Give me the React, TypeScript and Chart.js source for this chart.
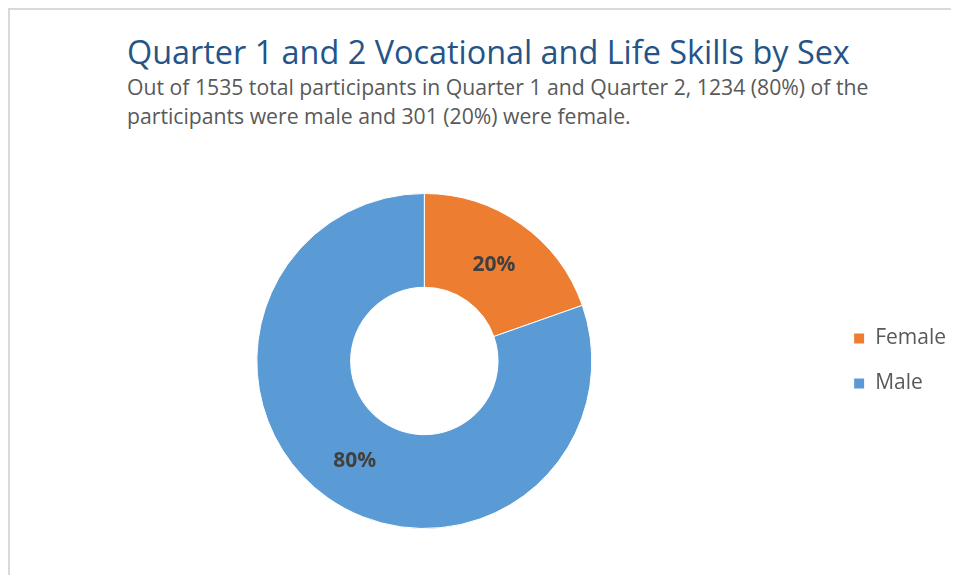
import React, { useEffect, useRef } from "react";
import { Chart, registerables } from "chart.js";

Chart.register(...registerables);

const TITLE = "Quarter 1 and 2 Vocational and Life Skills by Sex";
const SUBTITLE_LINES = [
  "Out of 1535 total participants in Quarter 1 and Quarter 2, 1234 (80%) of the",
  "participants were male and 301 (20%) were female.",
];
const CATEGORIES = ["Female", "Male"];
const VALUES = [301, 1234];
const COLORS = ["#ED7D31", "#5B9BD5"];

const FONT = "'Open Sans', 'Noto Sans', sans-serif";

const sliceLabels = {
  id: "sliceLabels",
  afterDatasetsDraw(chart: any) {
    const ctx = chart.ctx;
    const meta = chart.getDatasetMeta(0);
    const data = chart.data.datasets[0].data as number[];
    const total = data.reduce((a, b) => a + b, 0);
    ctx.save();
    ctx.font = `bold 21px ${FONT}`;
    ctx.fillStyle = "#404040";
    ctx.textAlign = "center";
    ctx.textBaseline = "middle";
    meta.data.forEach((arc: any, i: number) => {
      const p = arc.getCenterPoint();
      ctx.fillText(Math.round((data[i] / total) * 100) + "%", p.x, p.y + 2);
    });
    ctx.restore();
  },
};

export default function App() {
  const ref = useRef<HTMLCanvasElement>(null);

  useEffect(() => {
    if (!ref.current) return;
    const chart = new Chart(ref.current, {
      type: "doughnut",
      data: {
        labels: CATEGORIES,
        datasets: [
          {
            data: VALUES,
            backgroundColor: COLORS,
            borderColor: "#ffffff",
            borderWidth: 1,
          },
        ],
      },
      options: {
        responsive: false,
        animation: false,
        cutout: "44%",
        layout: { padding: { left: 9, right: 0, top: 2, bottom: 2 } },
        plugins: {
          tooltip: { enabled: false },
          legend: {
            position: "right",
            align: "center",
            labels: {
              boxWidth: 11,
              boxHeight: 11,
              padding: 24,
              color: "#595959",
              font: { family: FONT, size: 21 },
            },
          },
        },
      },
      plugins: [sliceLabels],
    });
    return () => chart.destroy();
  }, []);

  return (
    <div
      style={{
        position: "relative",
        width: 949,
        height: 565,
        marginRight: -8,
        borderTop: "2px solid #d9d9d9",
        borderLeft: "2px solid #d9d9d9",
        overflow: "hidden",
        background: "#ffffff",
      }}
    >
      <div
        style={{
          position: "absolute",
          left: 117,
          top: 21,
          fontFamily: FONT,
          fontSize: 32.4,
          lineHeight: "40px",
          color: "#245488",
          whiteSpace: "nowrap",
        }}
      >
        {TITLE}
      </div>
      <div
        style={{
          position: "absolute",
          left: 117,
          top: 62,
          fontFamily: FONT,
          fontSize: 21.2,
          lineHeight: "29px",
          color: "#595959",
          whiteSpace: "nowrap",
        }}
      >
        {SUBTITLE_LINES.map((l, i) => (
          <div key={i}>{l}</div>
        ))}
      </div>
      <canvas
        ref={ref}
        width={946}
        height={340}
        style={{ position: "absolute", left: 0, top: 181, display: "block" }}
      />
    </div>
  );
}
